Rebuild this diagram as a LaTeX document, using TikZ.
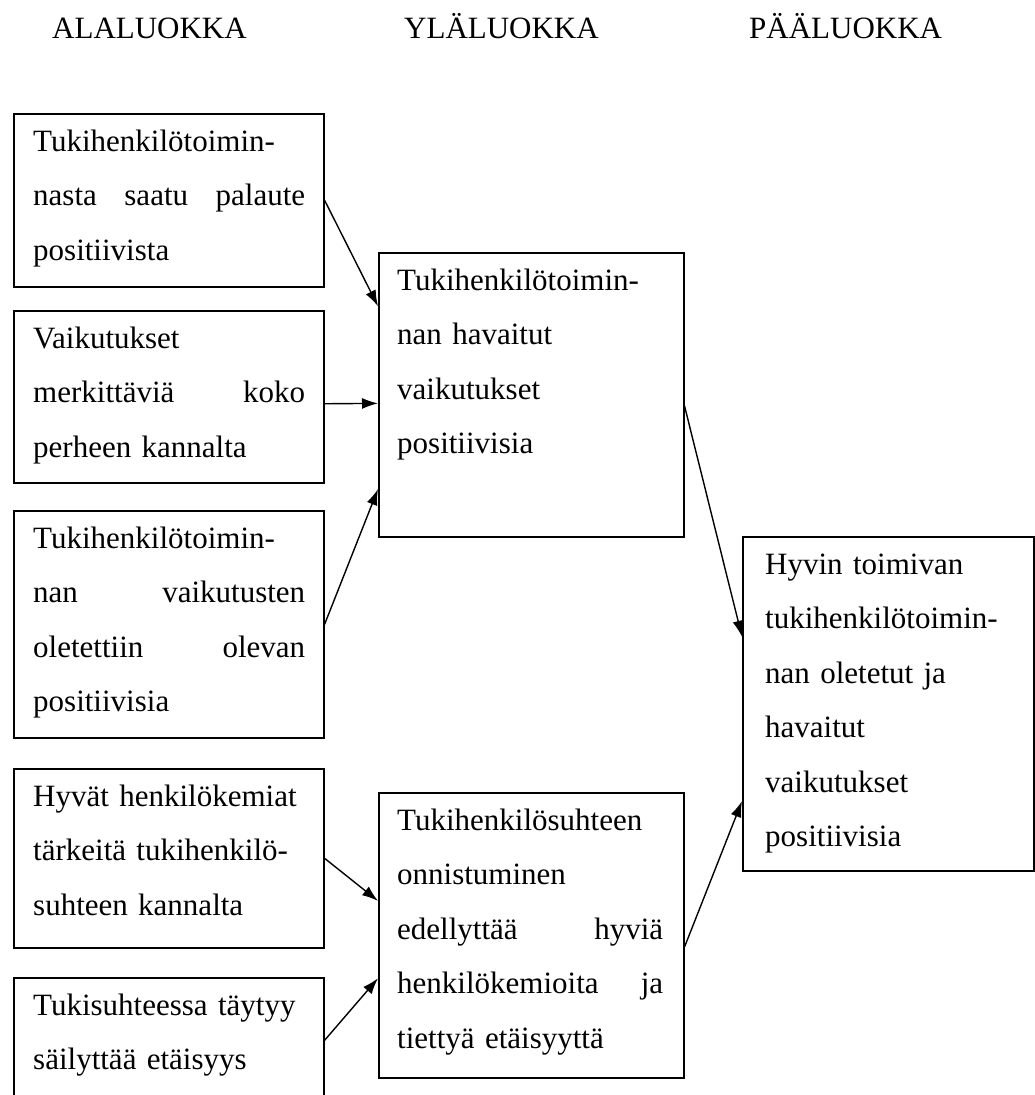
\documentclass[tikz,border=0pt]{standalone}
\usepackage{fontspec}
\setmainfont{Liberation Serif}
\usetikzlibrary{positioning,calc,arrows.meta}

\begin{document}
\begin{tikzpicture}[x=1pt,y=-1pt,
    laatikko/.style={draw,line width=1.6pt,rectangle,anchor=north west,inner sep=0pt},
    teksti/.style={inner sep=0pt,align=left,font=\fontsize{31}{54.5}\selectfont},
    otsikko/.style={anchor=base west,inner sep=0pt,font=\fontsize{31}{37}\selectfont},
    nuoli/.style={line width=1.4pt,-{Latex[length=16pt,width=11pt]}}]
    \useasboundingbox (0,0) rectangle (1035,1095);
    % otsikot
    \node[otsikko] (h1) at (52,38) {ALALUOKKA};
    \node[otsikko] (h2) at (404,38) {YLÄLUOKKA};
    \node[otsikko] (h3) at (749,38) {PÄÄLUOKKA};
    % alaluokat
    \node[laatikko,minimum width=310pt,minimum height=173pt] (a1) at (13,113) {};
    \node[laatikko,minimum width=310pt,minimum height=172pt] (a2) at (13,310) {};
    \node[laatikko,minimum width=310pt,minimum height=227pt] (a3) at (13,510) {};
    \node[laatikko,minimum width=310pt,minimum height=179pt] (a4) at (13,768) {};
    \node[laatikko,minimum width=310pt,minimum height=125pt] (a5) at (13,977) {};
    % yläluokat
    \node[laatikko,minimum width=305pt,minimum height=284pt] (b1) at (378,252) {};
    \node[laatikko,minimum width=305pt,minimum height=285pt] (b2) at (378,792) {};
    % pääluokka
    \node[laatikko,minimum width=291pt,minimum height=334pt] (c) at (742,536) {};
    % tekstit
    \node[teksti,text width=272pt,below right=0pt and 20pt of a1.north west] (a1t)
        {\strut Tukihenkilötoimin-\\nasta\hfill saatu\hfill palaute\\positiivista};
    \node[teksti,text width=272pt,below right=0pt and 20pt of a2.north west] (a2t)
        {\strut Vaikutukset\\merkittäviä\hfill koko\\perheen kannalta};
    \node[teksti,text width=272pt,below right=0pt and 20pt of a3.north west] (a3t)
        {\strut Tukihenkilötoimin-\\nan\hfill vaikutusten\\oletettiin\hfill olevan\\positiivisia};
    \node[teksti,text width=272pt,below right=0pt and 20pt of a4.north west] (a4t)
        {\strut Hyvät henkilökemiat\\tärkeitä tukihenkilö-\\suhteen kannalta};
    \node[teksti,text width=272pt,below right=0pt and 20pt of a5.north west] (a5t)
        {\strut Tukisuhteessa täytyy\\säilyttää etäisyys};
    \node[teksti,text width=266pt,below right=0pt and 19pt of b1.north west] (b1t)
        {\strut Tukihenkilötoimin-\\nan havaitut\\vaikutukset\\positiivisia};
    \node[teksti,text width=266pt,below right=0pt and 19pt of b2.north west] (b2t)
        {\strut Tukihenkilösuhteen\\onnistuminen\\edellyttää\hfill hyviä\\henkilökemioita\hfill ja\\tiettyä etäisyyttä};
    \node[teksti,text width=260pt,below right=0pt and 23pt of c.north west] (ct)
        {\strut Hyvin toimivan\\tukihenkilötoimin-\\nan oletetut ja\\havaitut\\vaikutukset\\positiivisia};
    % nuolet
    \draw[nuoli] (a1.east) -- ($(b1.north west)!.19!(b1.south west)$);
    \draw[nuoli] ($(a2.north east)!.54!(a2.south east)$) -- ($(b1.north west)!.53!(b1.south west)$);
    \draw[nuoli] (a3.east) -- ($(b1.north west)!.83!(b1.south west)$);
    \draw[nuoli] ($(b1.north east)!.54!(b1.south east)$) -- ($(c.north west)!.30!(c.south west)$);
    \draw[nuoli] (a4.east) -- ($(b2.north west)!.38!(b2.south west)$);
    \draw[nuoli] (a5.east) -- ($(b2.north west)!.65!(b2.south west)$);
    \draw[nuoli] ($(b2.north east)!.54!(b2.south east)$) -- ($(c.north west)!.79!(c.south west)$);
\end{tikzpicture}
\end{document}
